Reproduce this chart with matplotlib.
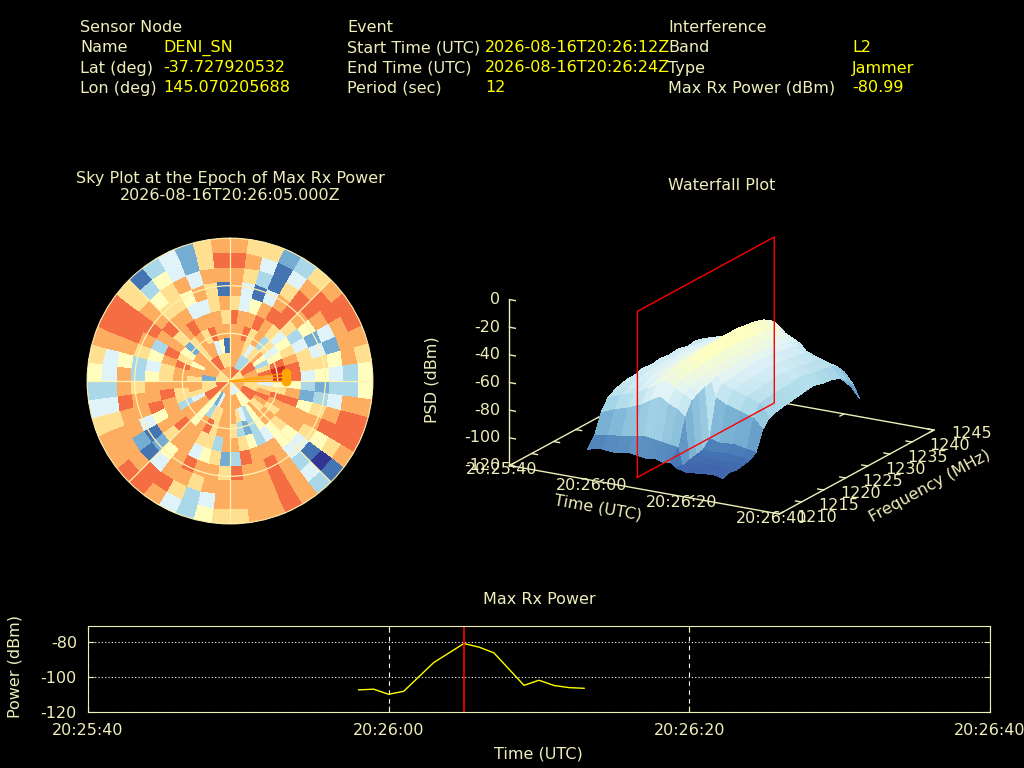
import numpy as np
import matplotlib
matplotlib.use('Agg')
import matplotlib.pyplot as plt

plt.rcParams['axes.unicode_minus'] = False

FG = '#eeeebb'
VAL = '#ffff00'
FS = 11.5

# header
sensor_labels = ['Name', 'Lat (deg)', 'Lon (deg)']
sensor_values = ['DENI_SN', '-37.727920532', '145.070205688']
event_labels = ['Start Time (UTC)', 'End Time (UTC)', 'Period (sec)']
event_values = ['2026-08-16T20:26:12Z', '2026-08-16T20:26:24Z', '12']
intf_labels = ['Band', 'Type', 'Max Rx Power (dBm)']
intf_values = ['L2', 'Jammer', '-80.99']

# time axis, seconds after 20:25:40
time_ticks = [0, 20, 40, 60]
time_tick_labels = ['20:25:40', '20:26:00', '20:26:20', '20:26:40']
max_epoch = 25
max_epoch_label = '2026-08-16T20:26:05.000Z'

# max rx power series
rx_sec = [18, 19, 20, 21, 23, 25, 26, 27, 29, 30, 31, 32, 33]
rx_dbm = [-107.4, -107.0, -109.9, -108.2, -91.8, -80.99, -83.0, -86.3,
          -104.8, -101.9, -104.9, -106.1, -106.5]

# sky plot cells: one string per zenith ring (centre -> horizon),
# 48 azimuth sectors from north, clockwise
sky_rings = [
    '888888666666' '777777444444' '777777888888' '666666777777',
    '777333888777' '666888555777' '777425888666' '227777888666',
    '777646753687' '467876753467' '776635774677' '677577677451',
    '778673645899' '568767753236' '776875773667' '778652676877',
    '877876456788' '578776543567' '736677877787' '667876787776',
    '645788634664' '325775577783' '265477675877' '545378774467',
    '741478752465' '236764478778' '677875214776' '336787665761',
    '763168874254' '347851378777' '776774127787' '757887567477',
    '874147887773' '378860478777' '743688777643' '447886354268',
    '766236788765' '578871378776' '653478877643' '567886134267',
]
sky_zen_edges = [0, 9, 18, 27, 36, 45, 54, 63, 72, 81, 90]
sat_az = [82, 86, 90]
sat_zen = [35.5, 35.3, 35.1]

# waterfall surface
wf_sec = [14, 17, 20, 23, 25, 27, 29, 31, 32.5, 33.5, 36, 39, 42, 44]
wf_mhz = [1213.5, 1215, 1216.5, 1218, 1219.5, 1221, 1222.5, 1224, 1226, 1228,
          1230, 1232, 1234, 1236, 1238, 1240, 1241.5, 1243, 1244.5]
wf_psd = [
    [-106, -99, -85, -77, -74, -72, -71, -71, -69, -70, -69, -70, -69, -71, -70, -72, -75, -80, -88],
    [-104, -97, -81, -73, -71, -69, -68, -67, -67, -66, -67, -65, -66, -67, -67, -69, -72, -77, -85],
    [-105, -96, -78, -70, -68, -66, -64, -64, -63, -63, -62, -62, -63, -63, -65, -66, -68, -74, -83],
    [-103, -94, -74, -65, -62, -61, -59, -59, -58, -58, -57, -57, -57, -58, -58, -60, -63, -68, -77],
    [-104, -93, -70, -61, -58, -56, -55, -55, -54, -54, -53, -53, -53, -54, -54, -56, -59, -64, -73],
    [-105, -94, -66, -57, -53, -51, -50, -49, -48, -48, -47, -47, -47, -48, -49, -51, -54, -59, -69],
    [-104, -95, -70, -62, -59, -57, -56, -55, -54, -54, -53, -53, -54, -55, -55, -57, -60, -65, -75],
    [-106, -96, -73, -65, -62, -60, -59, -58, -58, -57, -57, -56, -57, -57, -59, -60, -63, -68, -78],
    [-105, -97, -77, -68, -65, -63, -62, -61, -60, -60, -59, -59, -60, -61, -62, -63, -66, -71, -81],
    [-108, -109, -107, -106, -105, -100, -73, -66, -65, -64, -64, -63, -64, -65, -66, -67, -70, -75, -85],
    [-110, -108, -109, -107, -106, -102, -77, -69, -68, -67, -67, -66, -67, -68, -69, -70, -73, -78, -88],
    [-109, -110, -108, -108, -105, -101, -80, -72, -71, -70, -70, -69, -70, -71, -72, -73, -76, -82, -92],
    [-108, -109, -110, -107, -106, -103, -83, -75, -74, -73, -73, -72, -72, -74, -75, -76, -79, -85, -98],
    [-110, -108, -109, -108, -107, -104, -90, -84, -82, -81, -80, -79, -78, -80, -81, -83, -87, -93, -106],
]
freq_ticks = [1210, 1215, 1220, 1225, 1230, 1235, 1240, 1245]
psd_ticks = [-120, -100, -80, -60, -40, -20, 0]


def fx(x):
    return x / 1024


def fy(y):
    return 1 - y / 768


fig = plt.figure(figsize=(10.24, 7.68), dpi=100, facecolor='black')

# ---- header block
cols = [(80, 163, 'Sensor Node', sensor_labels, sensor_values),
        (347, 485, 'Event', event_labels, event_values),
        (668, 852, 'Interference', intf_labels, intf_values)]
for x0, x1, head, labs, vals in cols:
    fig.text(fx(x0), fy(27), head, color=FG, fontsize=FS, va='center')
    for i in range(3):
        y = 48 + 20 * i
        fig.text(fx(x0), fy(y), labs[i], color=FG, fontsize=FS, va='center')
        fig.text(fx(x1), fy(y), vals[i], color=VAL, fontsize=FS, va='center')

# ---- sky plot
sky = fig.add_axes([fx(87), fy(524), 286 / 1024, 286 / 768], projection='polar')
sky.set_facecolor('black')
sky.set_theta_zero_location('N')
sky.set_theta_direction(-1)
sky_vals = np.array([[int(c) for c in ring] for ring in sky_rings])
az_edges = np.deg2rad(np.arange(0, 360.01, 360 / sky_vals.shape[1]))
sky.pcolormesh(az_edges, sky_zen_edges, sky_vals, cmap='RdYlBu_r', vmin=0, vmax=10,
               shading='flat')
for a, z in zip(sat_az, sat_zen):
    sky.plot([np.deg2rad(a), np.deg2rad(a)], [0, z], color='#ffa500', lw=0.8, zorder=3)
sky.plot(np.deg2rad(sat_az), sat_zen, 'o', color='#ffa500', ms=6, zorder=4)
sky.set_ylim(0, 90)
sky.set_yticks([30, 60, 90])
sky.set_yticklabels([])
sky.set_xticks(np.deg2rad(np.arange(0, 360, 45)))
sky.set_xticklabels([])
sky.tick_params(length=0)
sky.grid(True, color='#fff3b0', lw=0.9)
sky.spines['polar'].set_color('#fff3b0')
sky.spines['polar'].set_linewidth(0.6)
fig.text(fx(230), fy(178), 'Sky Plot at the Epoch of Max Rx Power', color=FG,
         fontsize=FS, ha='center', va='center')
fig.text(fx(230), fy(195), max_epoch_label, color=FG, fontsize=FS, ha='center', va='center')

# ---- waterfall 3D
S = 459.0
wf = fig.add_axes([fx(486.0), fy(141.5 + S), S / 1024, S / 768], projection='3d')
wf.set_proj_type('ortho')
wf.view_init(elev=18.2, azim=-60.1)
wf.set_box_aspect((309.5, 308.3, 173.7))
wf.set_xlim(0, 60)
wf.set_ylim(1210, 1245)
wf.set_zlim(-120, 0)
wf.set_axis_off()
wf.patch.set_alpha(0)
wf.computed_zorder = False

f0, f1 = freq_ticks[0], freq_ticks[-1]
t0, t1 = time_ticks[0], time_ticks[-1]
wf.plot([t0, t1, t1, t0, t0], [f0, f0, f1, f1, f0], [-120] * 5, color=FG, lw=1, zorder=1)
wf.plot([t0, t0], [f0, f0], [-120, 0], color=FG, lw=1, zorder=1)
for z in psd_ticks:
    wf.plot([t0, t0 + 1.3], [f0, f0], [z, z], color=FG, lw=1, zorder=1)
    wf.text(t0 - 1.6, f0 - 0.5, z, str(z), color=FG, fontsize=FS, ha='right', va='center')
for t, lab in zip(time_ticks, time_tick_labels):
    wf.plot([t, t], [f0, f0 + 0.9], [-120, -120], color=FG, lw=1, zorder=1)
    wf.plot([t, t], [f1, f1 - 0.9], [-120, -120], color=FG, lw=1, zorder=1)
    wf.text(t, f0 - 1.75, -120, lab, color=FG, fontsize=FS, ha='center', va='center')
for f in freq_ticks:
    wf.plot([t1, t1 - 1.3], [f, f], [-120, -120], color=FG, lw=1, zorder=1)
    wf.plot([t0, t0 + 1.3], [f, f], [-120, -120], color=FG, lw=1, zorder=1)
    wf.text(t1 + 3.8, f, -120, str(f), color=FG, fontsize=FS, ha='left', va='center')

T, F = np.meshgrid(wf_sec, wf_mhz, indexing='ij')
wf.plot_surface(T, F, np.array(wf_psd, dtype=float), cmap='RdYlBu_r', vmin=-120, vmax=20,
                rstride=1, cstride=1, linewidth=0, antialiased=False, zorder=2)
pf0, pf1 = wf_mhz[0], wf_mhz[-1]
wf.plot([max_epoch] * 5, [pf0, pf1, pf1, pf0, pf0], [-120, -120, 0, 0, -120],
        color='red', lw=1, zorder=3)

fig.text(fx(722), fy(185), 'Waterfall Plot', color=FG, fontsize=FS, ha='center', va='center')
fig.text(fx(432), fy(380), 'PSD (dBm)', color=FG, fontsize=FS, ha='center', va='center',
         rotation=90)
fig.text(fx(598), fy(508), 'Time (UTC)', color=FG, fontsize=FS, ha='center', va='center',
         rotation=-10, rotation_mode='anchor')
fig.text(fx(930), fy(486), 'Frequency (MHz)', color=FG, fontsize=FS, ha='center', va='center',
         rotation=28.5, rotation_mode='anchor')

# ---- max rx power
pw = fig.add_axes([fx(88), fy(712), 902 / 1024, 86 / 768])
pw.set_facecolor('black')
pw.plot(rx_sec, rx_dbm, color=VAL, lw=1)
pw.axvline(max_epoch, color='red', lw=1.2)
pw.set_xlim(t0, t1)
pw.set_ylim(-120, max(rx_dbm) + 10)
pw.set_xticks(time_ticks, time_tick_labels)
pw.set_yticks([-120, -100, -80])
pw.xaxis.grid(True, color='white', ls=(0, (4, 4)), lw=0.8)
pw.yaxis.grid(True, color='white', ls=(0, (1, 2)), lw=0.8)
for sp in pw.spines.values():
    sp.set_color(FG)
pw.tick_params(colors=FG, direction='in', labelsize=FS, top=True, right=True, length=4, pad=8)
fig.text(fx(539), fy(600), 'Max Rx Power', color=FG, fontsize=FS, ha='center', va='center')
fig.text(fx(538), fy(754), 'Time (UTC)', color=FG, fontsize=FS, ha='center', va='center')
fig.text(fx(15), fy(667), 'Power (dBm)', color=FG, fontsize=FS, ha='center', va='center',
         rotation=90)

fig.savefig('out.png', facecolor='black')
